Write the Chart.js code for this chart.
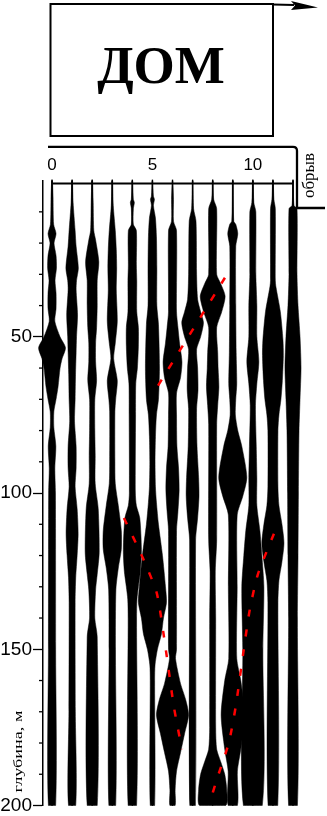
<!DOCTYPE html>
<html>
<head>
<meta charset="utf-8">
<script src="https://cdn.jsdelivr.net/npm/chart.js@4"></script>
<style>
	html, body { margin: 0; padding: 0; background: #fff; }
	#wrap { position: relative; width: 327px; height: 816px; }
	#chart, #deco { position: absolute; left: 0; top: 0; }
</style>
</head>
<body>
<div id="wrap">
	<canvas id="chart" width="327" height="816"></canvas>
	<svg id="deco" width="327" height="816" viewBox="0 0 327 816">
		<rect x="50.5" y="4" width="222.5" height="132" fill="none" stroke="#000" stroke-width="2"/>
		<text x="161" y="83" text-anchor="middle" font-family="'Liberation Serif', 'Times New Roman', serif" font-weight="bold" font-size="53">ДОМ</text>
		<line x1="273" y1="4.5" x2="294" y2="5" stroke="#000" stroke-width="2"/>
		<polygon points="291,1 318,7.5 291,10 295,5.5" fill="#000"/>
		<path d="M48 146.8 H293 Q297 146.8 297 150.8 V208 H325" fill="none" stroke="#000" stroke-width="2.3"/>
		<text transform="translate(313.5,175.5) rotate(-90)" text-anchor="middle" font-family="'Liberation Serif', serif" font-size="17">обрыв</text>
		<text transform="translate(21.5,751.5) rotate(-90) scale(1.4,1)" text-anchor="middle" font-family="'Liberation Serif', serif" font-size="13">глубина, м</text>
	</svg>
</div>
<script>
// Axes
const traceCount = 13;
const depthMin = 0;
const depthMax = 200;
const xLabelValues = [0, 5, 10];
const depthLabelValues = [50, 100, 150, 200];
const depthMinorStep = 10;

// Amplitude envelope of each trace: [depth m, half-width in trace spacings]
const trace0 = [[0, 0.02], [5, 0.05], [14, 0.08], [17, 0.2], [20, 0.1], [24, 0.2], [28, 0.22], [32, 0.15], [36, 0.2], [41, 0.2], [45, 0.14], [50, 0.4], [53.5, 0.67], [57, 0.5], [60, 0.4], [66, 0.3], [70, 0.2], [74, 0.09], [79, 0.09], [85, 0.19], [92, 0.14], [100, 0.17], [150, 0.18], [200, 0.18]];
const trace1 = [[0, 0.02], [7, 0.05], [16, 0.15], [21, 0.2], [28, 0.31], [32, 0.22], [35, 0.2], [43, 0.27], [50, 0.22], [55, 0.2], [62, 0.17], [70, 0.15], [77, 0.12], [85, 0.2], [92, 0.2], [98, 0.15], [105, 0.25], [113, 0.3], [120, 0.25], [127, 0.18], [135, 0.15], [170, 0.16], [200, 0.18]];
const trace2 = [[0, 0.02], [7, 0.05], [16, 0.08], [19, 0.17], [26, 0.33], [32, 0.25], [40, 0.25], [47, 0.22], [52, 0.17], [58, 0.17], [64, 0.22], [70, 0.13], [80, 0.13], [88, 0.15], [97, 0.15], [105, 0.3], [119, 0.35], [126, 0.25], [131, 0.17], [140, 0.13], [146, 0.25], [200, 0.25]];
const trace3 = [[0, 0.02], [8, 0.05], [16, 0.15], [22, 0.2], [28, 0.22], [35, 0.2], [45, 0.25], [52, 0.15], [57, 0.07], [64, 0.25], [70, 0.17], [74, 0.13], [90, 0.13], [97, 0.15], [104, 0.3], [112, 0.45], [118, 0.45], [124, 0.3], [131, 0.18], [150, 0.16], [200, 0.17]];
const trace4 = [[0, 0.02], [6, 0.05], [7, 0.1], [9, 0.05], [14, 0.05], [16, 0.2], [27, 0.2], [32, 0.22], [42, 0.22], [47, 0.3], [53, 0.3], [60, 0.25], [65, 0.17], [75, 0.16], [100, 0.15], [104, 0.2], [108, 0.37], [118, 0.45], [125, 0.4], [130, 0.3], [134, 0.23], [140, 0.21], [200, 0.21]];
const trace5 = [[0, 0.02], [5, 0.05], [6, 0.1], [8, 0.05], [12, 0.15], [18, 0.2], [28, 0.22], [40, 0.22], [46, 0.3], [60, 0.35], [70, 0.3], [75, 0.2], [82, 0.15], [90, 0.13], [98, 0.15], [103, 0.2], [110, 0.3], [120, 0.5], [130, 0.65], [135, 0.7], [140, 0.55], [145, 0.45], [150, 0.25], [155, 0.13], [160, 0.11], [200, 0.11]];
const trace6 = [[0, 0.02], [6, 0.05], [13, 0.05], [16, 0.2], [42, 0.2], [47, 0.27], [52, 0.35], [58, 0.47], [63, 0.4], [68, 0.2], [75, 0.2], [85, 0.22], [92, 0.3], [99, 0.33], [106, 0.27], [112, 0.2], [150, 0.2], [153, 0.15], [161, 0.4], [166, 0.65], [171, 0.8], [177, 0.6], [183, 0.4], [189, 0.2], [195, 0.13], [200, 0.13]];
const trace7 = [[0, 0.02], [9, 0.05], [13, 0.17], [30, 0.2], [38, 0.25], [42, 0.4], [45.5, 0.54], [50, 0.4], [54, 0.2], [60, 0.25], [67, 0.27], [73, 0.2], [85, 0.22], [95, 0.3], [101, 0.32], [108, 0.25], [115, 0.15], [200, 0.14]];
const trace8 = [[0, 0.02], [6, 0.05], [9, 0.2], [30, 0.2], [33, 0.4], [37, 0.62], [42, 0.45], [47, 0.2], [55, 0.25], [60, 0.27], [66, 0.31], [72, 0.25], [78, 0.2], [115, 0.2], [125, 0.13], [140, 0.15], [175, 0.15], [182, 0.2], [186, 0.4], [190, 0.6], [195, 0.7], [200, 0.65]];
const trace9 = [[0, 0.02], [13, 0.05], [14, 0.15], [17, 0.25], [21, 0.15], [40, 0.15], [55, 0.17], [65, 0.2], [70, 0.15], [75, 0.13], [80, 0.25], [85, 0.45], [95, 0.7], [101, 0.5], [107, 0.22], [130, 0.22], [153, 0.2], [160, 0.4], [171, 0.58], [182, 0.4], [189, 0.23], [200, 0.23]];
const trace10 = [[0, 0.02], [7, 0.05], [10, 0.15], [30, 0.15], [40, 0.2], [50, 0.2], [58, 0.3], [65, 0.2], [72, 0.13], [85, 0.17], [95, 0.2], [104, 0.2], [112, 0.35], [120, 0.45], [130, 0.55], [150, 0.5], [200, 0.47]];
const trace11 = [[0, 0.02], [6, 0.05], [9, 0.12], [32, 0.12], [34, 0.15], [42, 0.37], [51, 0.5], [56, 0.52], [64, 0.47], [70, 0.4], [75, 0.3], [80, 0.25], [98, 0.25], [104, 0.3], [110, 0.45], [116, 0.55], [122, 0.45], [128, 0.3], [135, 0.25], [200, 0.24]];
const trace12 = [[0, 0.02], [8, 0.05], [9, 0.2], [30, 0.2], [40, 0.25], [50, 0.35], [60, 0.4], [70, 0.35], [80, 0.3], [100, 0.27], [120, 0.25], [140, 0.22], [200, 0.22]];
const traces = [trace0, trace1, trace2, trace3, trace4, trace5, trace6, trace7, trace8, trace9, trace10, trace11, trace12];

// Picked horizons (red dashes): [trace position, depth m]
const horizon1 = [[5.28, 65.6], [8.61, 31.1]];
const horizon2 = [[3.58, 108], [4.53, 120.9], [5.22, 132.1], [5.67, 150.3], [6.07, 168.5], [6.47, 182]];
const horizon3 = [[11.05, 113], [10.25, 126], [9.85, 137.2], [9.55, 150], [9.15, 168.2], [8.8, 180], [8.2, 191.8], [7.82, 199.8]];

const sansFont = "'Liberation Sans', Arial, sans-serif";

const datasets = [];
traces.forEach((env, i) => {
	// outline: down the left side, back up the right side
	const left = env.map(([d, a]) => ({ x: i - a, y: d }));
	const right = env.slice().reverse().map(([d, a]) => ({ x: i + a, y: d }));
	datasets.push({
		data: left.concat(right),
		fill: "shape",
		backgroundColor: "#000",
		borderColor: "#000",
		borderWidth: 0.5,
		pointRadius: 0,
		tension: 0.25,
		clip: false,
		order: 2,
	});
	datasets.push({
		data: [{ x: i, y: depthMin }, { x: i, y: depthMax }],
		borderColor: "#000",
		borderWidth: 1,
		pointRadius: 0,
		fill: false,
		clip: false,
		order: 1,
	});
});
[horizon1, horizon2, horizon3].forEach((h) => {
	datasets.push({
		data: h.map(([x, d]) => ({ x, y: d })),
		borderColor: "#ff0000",
		borderWidth: 2.5,
		borderDash: [7, 13],
		pointRadius: 0,
		tension: 0.2,
		fill: false,
		clip: false,
		order: 0, // on top of the wiggles
	});
});

// let the wiggles spill over the frame edges like in the print
const looseArea = {
	id: "looseArea",
	beforeDatasetsDraw(chart) {
		chart.$savedArea = chart.chartArea;
		chart.chartArea = { left: 0, top: 0, right: chart.width, bottom: chart.height, width: chart.width, height: chart.height };
	},
	afterDatasetsDraw(chart) {
		chart.chartArea = chart.$savedArea;
	},
};

// top profile line with trace ticks, minor depth ticks
const axisMarks = {
	id: "axisMarks",
	afterDraw(chart) {
		const { ctx } = chart;
		const { x, y } = chart.scales;
		const lineY = y.getPixelForValue(depthMin) + 3;
		ctx.save();
		ctx.strokeStyle = "#000";
		ctx.lineWidth = 2;
		ctx.beginPath();
		ctx.moveTo(x.getPixelForValue(0), lineY);
		ctx.lineTo(x.getPixelForValue(traceCount - 1), lineY);
		ctx.stroke();
		ctx.lineWidth = 1.3;
		for (let i = 0; i < traceCount; i++) {
			const px = x.getPixelForValue(i);
			ctx.beginPath();
			ctx.moveTo(px, lineY - 4);
			ctx.lineTo(px, lineY);
			ctx.stroke();
		}
		for (let d = depthMin + depthMinorStep; d < depthMax; d += depthMinorStep) {
			if (depthLabelValues.includes(d)) continue;
			const py = y.getPixelForValue(d);
			ctx.beginPath();
			ctx.moveTo(y.right - 4, py);
			ctx.lineTo(y.right, py);
			ctx.stroke();
		}
		ctx.restore();
	},
};

new Chart(document.getElementById("chart").getContext("2d"), {
	type: "line",
	data: { datasets },
	options: {
		responsive: false,
		animation: false,
		devicePixelRatio: 1,
		events: [],
		layout: { padding: { left: 0, top: 0, right: 23.96, bottom: 10 } },
		plugins: {
			legend: { display: false },
			tooltip: { enabled: false },
		},
		scales: {
			x: {
				type: "linear",
				position: "top",
				min: -0.45,
				max: 12.5,
				afterFit: (s) => { s.height = 180.6; },
				afterBuildTicks: (s) => { s.ticks = xLabelValues.map((v) => ({ value: v })); },
				ticks: {
					color: "#000",
					font: { family: sansFont, size: 17 },
					padding: 5,
					autoSkip: false,
					maxRotation: 0,
				},
				grid: { display: false, drawTicks: false },
				border: { display: false },
			},
			y: {
				type: "linear",
				position: "left",
				reverse: true,
				min: depthMin,
				max: depthMax,
				afterFit: (s) => { s.width = 43; },
				afterBuildTicks: (s) => { s.ticks = [depthMin].concat(depthLabelValues).map((v) => ({ value: v })); },
				ticks: {
					color: "#000",
					font: { family: sansFont, size: 19, lineHeight: 1 },
					padding: 1,
					autoSkip: false,
					callback: (v) => (depthLabelValues.includes(v) ? String(v) : ""),
				},
				grid: {
					drawOnChartArea: false,
					tickLength: 10,
					tickWidth: 1.3,
					tickColor: (c) => (c.tick && c.tick.value === depthMin ? "transparent" : "#000"),
				},
				border: { display: true, color: "#000", width: 1.5 },
			},
		},
	},
	plugins: [looseArea, axisMarks],
});
</script>
</body>
</html>
